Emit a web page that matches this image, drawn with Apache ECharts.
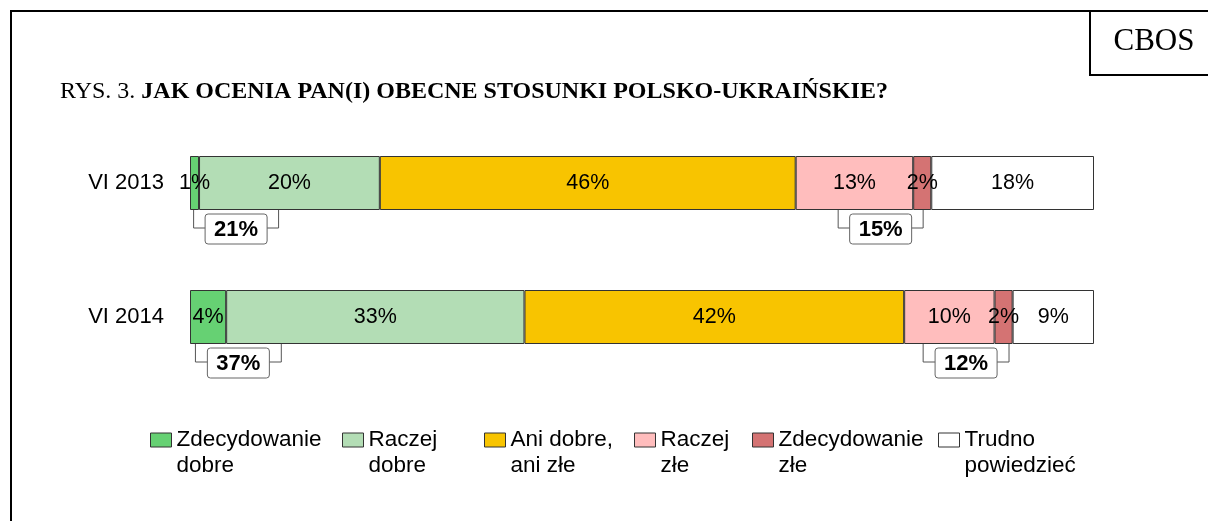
<!DOCTYPE html>
<html>
<head>
<meta charset="utf-8">
<script src="https://cdn.jsdelivr.net/npm/echarts@6/dist/echarts.min.js"></script>
<style>
html, body { margin: 0; padding: 0; background: #fff; }
#myChart { width: 1208px; height: 521px; }
</style>
</head>
<body>
<div id="myChart"></div>
<script>
// dane
var categories = ['VI 2013', 'VI 2014'];
var seriesNames = ['Zdecydowanie dobre', 'Raczej dobre', 'Ani dobre, ani złe', 'Raczej złe', 'Zdecydowanie złe', 'Trudno powiedzieć'];
var legendLabels = ['Zdecydowanie\ndobre', 'Raczej\ndobre', 'Ani dobre,\nani złe', 'Raczej\nzłe', 'Zdecydowanie\nzłe', 'Trudno\npowiedzieć'];
var zdecydowanieDobre = [1, 4];
var raczejDobre = [20, 33];
var aniDobreAniZle = [46, 42];
var raczejZle = [13, 10];
var zdecydowanieZle = [2, 2];
var trudnoPowiedziec = [18, 9];
// klamry pod słupkami (zakres na osi w %)
var goodBracket = [[0.4, 9.8], [0.6, 10.1]];
var badBracket = [[71.7, 81.1], [81.1, 90.6]];

var colors = ['#66d173', '#b3ddb5', '#f8c400', '#ffbdbd', '#d47373', '#ffffff'];
var values = [zdecydowanieDobre, raczejDobre, aniDobreAniZle, raczejZle, zdecydowanieZle, trudnoPowiedziec];
var legendLeft = [150, 342, 484, 634, 752, 938];
var barWidth = 54;
var sans = '"Liberation Sans", Arial, sans-serif';
var serif = '"Liberation Serif", "Times New Roman", serif';

var bracketData = [];
for (var i = 0; i < categories.length; i++) {
    bracketData.push([i, goodBracket[i][0], goodBracket[i][1], zdecydowanieDobre[i] + raczejDobre[i]]);
    bracketData.push([i, badBracket[i][0], badBracket[i][1], raczejZle[i] + zdecydowanieZle[i]]);
}

var series = [];
for (var s = 0; s < seriesNames.length; s++) {
    series.push({
        name: seriesNames[s],
        type: 'bar',
        stack: 'all',
        barWidth: barWidth,
        data: values[s],
        itemStyle: { color: colors[s], borderColor: '#333', borderWidth: 1 },
        label: {
            show: true,
            position: 'inside',
            formatter: '{c}%',
            color: '#000',
            fontSize: 21.5,
            fontFamily: sans
        },
        emphasis: { disabled: true }
    });
}
series.push({
    type: 'custom',
    z: 5,
    encode: { x: [1, 2], y: 0 },
    data: bracketData,
    renderItem: function (params, api) {
        var cat = api.value(0);
        var p1 = api.coord([api.value(1), cat]);
        var p2 = api.coord([api.value(2), cat]);
        var y0 = p1[1] + barWidth / 2;
        var yl = y0 + 18;
        var mid = (p1[0] + p2[0]) / 2;
        return {
            type: 'group',
            children: [
                { type: 'polyline', shape: { points: [[p1[0], y0], [p1[0], yl], [p2[0], yl], [p2[0], y0]] },
                  style: { stroke: '#555', lineWidth: 1, fill: null } },
                { type: 'rect', shape: { x: mid - 31, y: y0 + 4, width: 62, height: 30, r: 3 },
                  style: { fill: '#fff', stroke: '#666', lineWidth: 1 } },
                { type: 'text', style: { text: api.value(3) + '%', x: mid, y: y0 + 19.5, align: 'center', verticalAlign: 'middle',
                  fontSize: 22, fontWeight: 'bold', fontFamily: sans, fill: '#000' } }
            ]
        };
    }
});

// legenda: pusta linia na początku, żeby ikona stała przy pierwszym wierszu
var legends = [];
for (var k = 0; k < seriesNames.length; k++) {
    legends.push({
        data: [seriesNames[k]],
        left: legendLeft[k],
        top: 401,
        padding: 0,
        itemWidth: 21,
        itemHeight: 14,
        selectedMode: false,
        icon: 'rect',
        itemStyle: { borderColor: '#333', borderWidth: 1 },
        formatter: (function (lbl) { return function () { return ' \n' + lbl; }; })(legendLabels[k]),
        textStyle: { fontSize: 22.5, lineHeight: 26, fontFamily: sans, color: '#000' }
    });
}

var myChart = echarts.init(document.getElementById('myChart'));
myChart.setOption({
    animation: false,
    title: {
        left: 55,
        top: 74,
        text: '{n|RYS. 3. }{b|JAK OCENIA PAN(I) OBECNE STOSUNKI POLSKO-UKRAIŃSKIE?}',
        textStyle: {
            rich: {
                n: { fontSize: 24, fontFamily: serif, fontWeight: 'normal', color: '#000', lineHeight: 25 },
                b: { fontSize: 24, fontFamily: serif, fontWeight: 'bold', color: '#000', lineHeight: 25 }
            }
        }
    },
    legend: legends,
    grid: { left: 190, right: 114, top: 116, bottom: 137 },
    xAxis: { type: 'value', min: 0, max: 100, show: false },
    yAxis: {
        type: 'category',
        inverse: true,
        data: categories,
        axisLine: { show: false },
        axisTick: { show: false },
        axisLabel: { margin: 26, fontSize: 22, fontFamily: sans, color: '#000' }
    },
    graphic: [
        { type: 'polyline', shape: { points: [[11, 521], [11, 11], [1208, 11]] }, style: { stroke: '#000', lineWidth: 2, fill: null } },
        { type: 'polyline', shape: { points: [[1090, 11], [1090, 75], [1208, 75]] }, style: { stroke: '#000', lineWidth: 2, fill: null } },
        { type: 'text', x: 1154, y: 42, style: { text: 'CBOS', fontSize: 31, fontFamily: serif, fill: '#000', align: 'center', verticalAlign: 'middle' } }
    ],
    series: series
});
window.addEventListener('resize', myChart.resize);
</script>
</body>
</html>
